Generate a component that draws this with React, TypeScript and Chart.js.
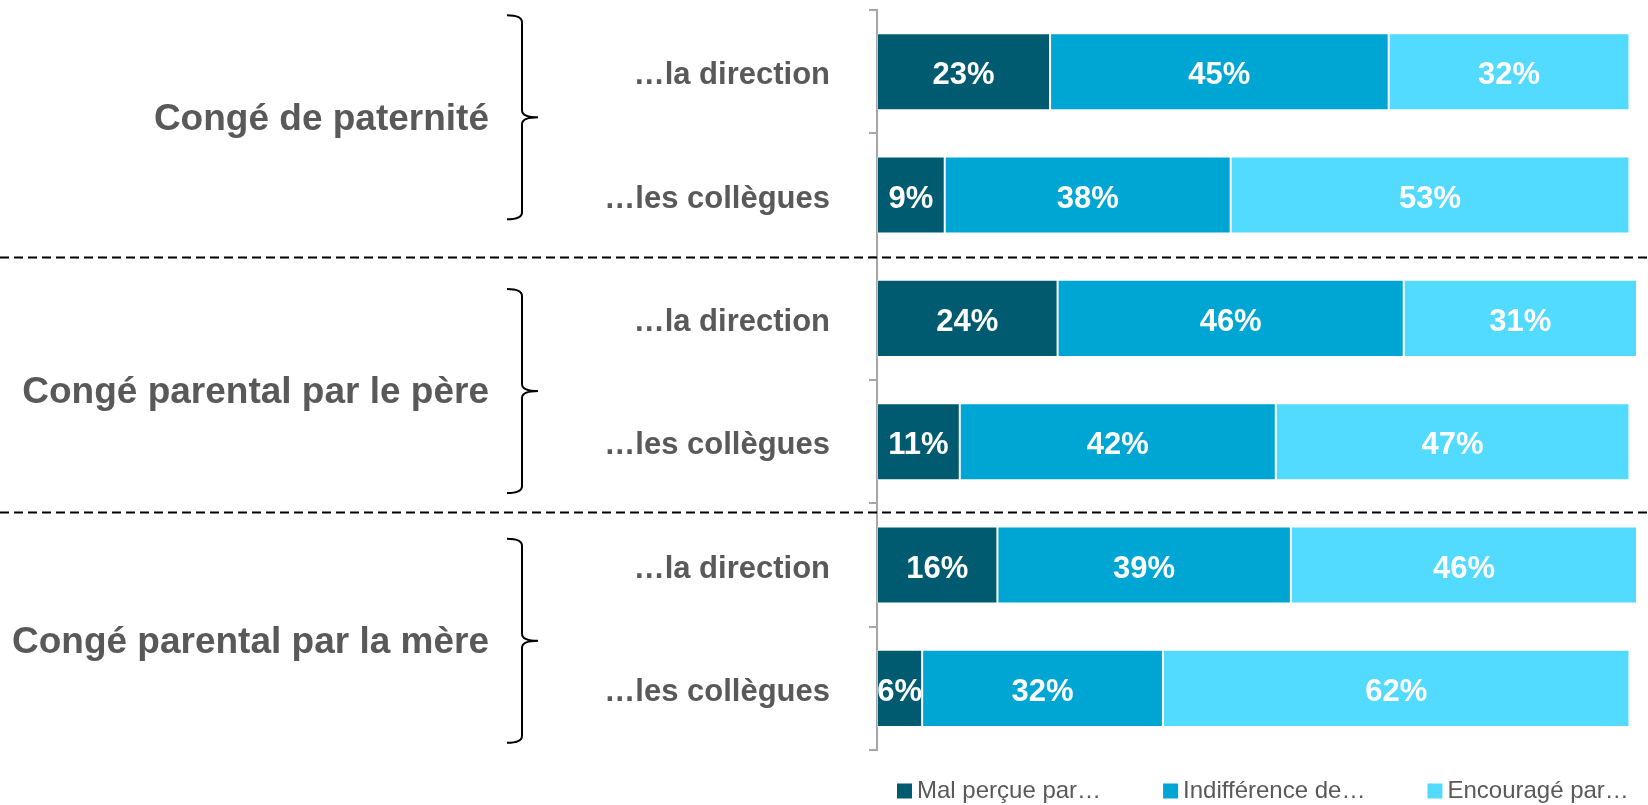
import React, { useEffect, useRef } from "react";
import { Chart, registerables } from "chart.js";

Chart.register(...registerables);

// ---------- data ----------
const groupLabels = ["Congé de paternité", "Congé parental par le père", "Congé parental par la mère"];
const rowLabels = ["…la direction", "…les collègues", "…la direction", "…les collègues", "…la direction", "…les collègues"];
const seriesNames = ["Mal perçue par…", "Indifférence de…", "Encouragé par…"];
const malPercue = [23, 9, 24, 11, 16, 6];
const indifference = [45, 38, 46, 42, 39, 32];
const encourage = [32, 53, 31, 47, 46, 62];
const seriesColors = ["#005B71", "#00A6D3", "#52DAFF"];

// annotation tweaks (pixels) for braces / separators
const braceShift = [-16, 11, 14];
const braceHalf = 102;
const separatorNudge = [0, 9];

const FONT = "'Liberation Sans', Arial, sans-serif";
const GREY = "#595959";

const overlayPlugin = {
  id: "overlay",
  afterDatasetsDraw(chart: any) {
    const ctx = chart.ctx;
    ctx.save();
    ctx.fillStyle = "#ffffff";
    ctx.font = `bold 31px ${FONT}`;
    ctx.textAlign = "center";
    ctx.textBaseline = "middle";
    chart.data.datasets.forEach((ds: any, di: number) => {
      const meta = chart.getDatasetMeta(di);
      meta.data.forEach((bar: any, i: number) => {
        const v = ds.data[i];
        const cx = (bar.x + bar.base) / 2;
        ctx.fillText(v + "%", cx, bar.y + 4);
      });
    });
    ctx.restore();
  },
  afterDraw(chart: any) {
    const ctx = chart.ctx;
    const y = chart.scales.y;
    const area = chart.chartArea;
    const W = chart.width;
    ctx.save();

    // dashed separators between groups
    ctx.strokeStyle = "#000000";
    ctx.lineWidth = 2;
    ctx.setLineDash([9, 5]);
    for (let g = 1; g < groupLabels.length; g++) {
      const a = y.getPixelForValue(g * 2 - 1);
      const b = y.getPixelForValue(g * 2);
      const yy = Math.round((a + b) / 2 + separatorNudge[g - 1]) + 0.5;
      ctx.beginPath();
      ctx.moveTo(0, yy);
      ctx.lineTo(W, yy);
      ctx.stroke();
    }
    ctx.setLineDash([]);

    // braces and group labels
    const bx = area.left - 355; // vertical stroke of the brace
    groupLabels.forEach((label, g) => {
      const a = y.getPixelForValue(g * 2);
      const b = y.getPixelForValue(g * 2 + 1);
      const c = (a + b) / 2 + braceShift[g];
      const top = c - braceHalf;
      const bot = c + braceHalf;
      const r = 7;
      ctx.strokeStyle = "#000000";
      ctx.lineWidth = 2;
      ctx.beginPath();
      ctx.moveTo(bx - 15, top);
      ctx.quadraticCurveTo(bx, top, bx, top + r);
      ctx.lineTo(bx, c - r);
      ctx.quadraticCurveTo(bx, c, bx + 16, c);
      ctx.moveTo(bx + 16, c);
      ctx.quadraticCurveTo(bx, c, bx, c + r);
      ctx.lineTo(bx, bot - r);
      ctx.quadraticCurveTo(bx, bot, bx - 15, bot);
      ctx.stroke();

      ctx.fillStyle = GREY;
      ctx.font = `bold 37px ${FONT}`;
      ctx.textAlign = "right";
      ctx.textBaseline = "middle";
      ctx.fillText(label, bx - 33, c + 2);
    });

    // legend
    ctx.font = `24px ${FONT}`;
    ctx.textAlign = "left";
    ctx.textBaseline = "middle";
    let lx = area.left + 20;
    const ly = 791;
    seriesNames.forEach((name, i) => {
      ctx.fillStyle = seriesColors[i];
      ctx.fillRect(lx, ly - 7.5, 15, 15);
      ctx.fillStyle = GREY;
      ctx.fillText(name, lx + 20, ly);
      lx += 20 + ctx.measureText(name).width + 62;
    });

    ctx.restore();
  },
};

export default function App() {
  const ref = useRef<HTMLCanvasElement | null>(null);

  useEffect(() => {
    if (!ref.current) return;
    const values = [malPercue, indifference, encourage];
    const chart = new Chart(ref.current, {
      type: "bar",
      data: {
        labels: rowLabels,
        datasets: seriesNames.map((name, i) => ({
          label: name,
          data: values[i],
          backgroundColor: seriesColors[i],
          borderColor: "rgba(255,255,255,0.35)",
          borderWidth: 1,
          borderSkipped: false,
          categoryPercentage: 1,
          barPercentage: 0.625,
        })),
      },
      options: {
        indexAxis: "y",
        animation: false,
        responsive: true,
        maintainAspectRatio: false,
        layout: { padding: { left: 0, right: 11, top: 10, bottom: 55 } },
        plugins: {
          legend: { display: false },
          tooltip: { enabled: false },
        },
        scales: {
          x: {
            stacked: true,
            min: 0,
            max: 101,
            display: false,
          },
          y: {
            stacked: true,
            afterFit: (scale: any) => {
              scale.width = 877;
              scale.paddingTop = 0;
              scale.paddingBottom = 0;
            },
            grid: {
              display: true,
              drawOnChartArea: false,
              drawTicks: true,
              tickLength: 8,
              color: "#a6a6a6",
              lineWidth: 2,
              offset: true,
            },
            border: { display: true, color: "#a6a6a6", width: 2 },
            ticks: {
              color: GREY,
              padding: 39,
              labelOffset: 4,
              font: { family: FONT, size: 31, weight: "bold" },
            },
          },
        },
      },
      plugins: [overlayPlugin],
    });
    return () => chart.destroy();
  }, []);

  return (
    <div style={{ position: "absolute", left: 0, top: 0, width: 1648, height: 805, background: "#fff" }}>
      <canvas ref={ref} />
    </div>
  );
}
